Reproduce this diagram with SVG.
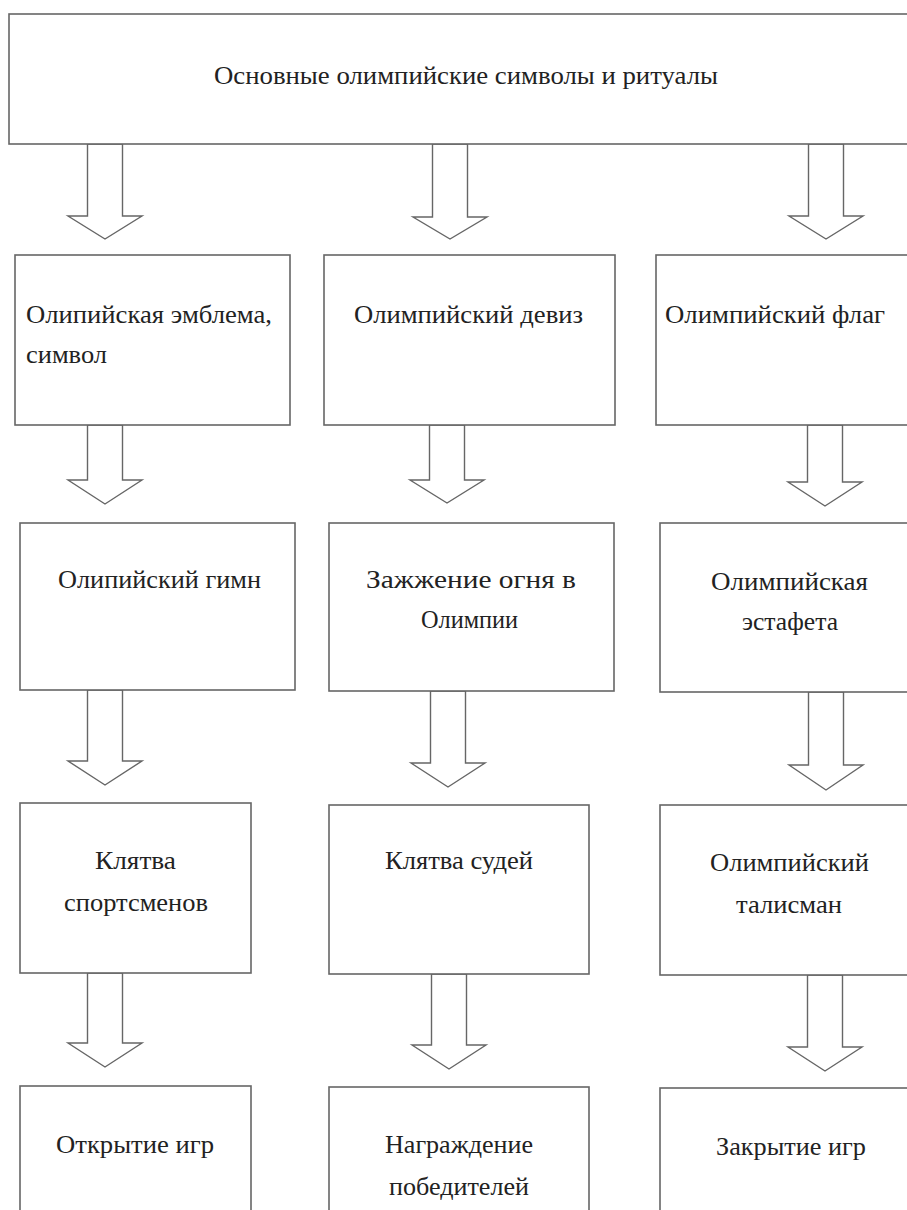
<svg xmlns="http://www.w3.org/2000/svg" width="907" height="1210" viewBox="0 0 907 1210">
<style>
.box{fill:#fff;stroke:#666;stroke-width:1.6}
.arr{fill:#fff;stroke:#666;stroke-width:1.4;stroke-linejoin:miter}
text{font-size:25px;fill:#222}
</style>
<rect width="907" height="1210" fill="#fff"/>
<g id="connectors">
<polygon class="arr" points="87.5,144 122.5,144 122.5,216 142,216 105,239 68,216 87.5,216"/>
<polygon class="arr" points="432.5,144 467.5,144 467.5,217 487,217 450,239 413,217 432.5,217"/>
<polygon class="arr" points="808.5,144 843.5,144 843.5,216 863,216 826,239 789,216 808.5,216"/>
<polygon class="arr" points="87.5,425 122.5,425 122.5,480 142,480 105,504 68,480 87.5,480"/>
<polygon class="arr" points="429.5,425 464.5,425 464.5,480 484,480 447,503 410,480 429.5,480"/>
<polygon class="arr" points="807.5,425 842.5,425 842.5,482 862,482 825,506 788,482 807.5,482"/>
<polygon class="arr" points="87.5,690 122.5,690 122.5,761 142,761 105,785 68,761 87.5,761"/>
<polygon class="arr" points="430.5,691 465.5,691 465.5,763 485,763 448,787 411,763 430.5,763"/>
<polygon class="arr" points="808.5,692 843.5,692 843.5,765 863,765 826,790 789,765 808.5,765"/>
<polygon class="arr" points="87.5,973 122.5,973 122.5,1043 142,1043 105,1067 68,1043 87.5,1043"/>
<polygon class="arr" points="431.5,974 466.5,974 466.5,1045 486,1045 449,1069 412,1045 431.5,1045"/>
<polygon class="arr" points="807.5,975 842.5,975 842.5,1047 862,1047 825,1071 788,1047 807.5,1047"/>
</g>
<g font-family="Times New Roman, Liberation Serif, DejaVu Serif, serif">
<g id="n-top"><rect class="box" x="9" y="14" width="910" height="130"/><text x="214" y="84" textLength="504" lengthAdjust="spacingAndGlyphs">Основные олимпийские символы и ритуалы</text></g>
<g id="n-emblem"><rect class="box" x="15" y="255" width="275" height="170"/><text x="26" y="323" textLength="246" lengthAdjust="spacingAndGlyphs">Олипийская эмблема,</text><text x="26" y="363" textLength="81" lengthAdjust="spacingAndGlyphs">символ</text></g>
<g id="n-motto"><rect class="box" x="324" y="255" width="291" height="170"/><text x="354" y="323" textLength="229" lengthAdjust="spacingAndGlyphs">Олимпийский девиз</text></g>
<g id="n-flag"><rect class="box" x="656" y="255" width="264" height="170"/><text x="665" y="323" textLength="220" lengthAdjust="spacingAndGlyphs">Олимпийский флаг</text></g>
<g id="n-anthem"><rect class="box" x="20" y="523" width="275" height="167"/><text x="58" y="588" textLength="203" lengthAdjust="spacingAndGlyphs">Олипийский гимн</text></g>
<g id="n-fire"><rect class="box" x="329" y="523" width="285" height="168"/><text x="366" y="588" textLength="210" lengthAdjust="spacingAndGlyphs">Зажжение огня в</text><text x="421" y="628" textLength="97" lengthAdjust="spacingAndGlyphs">Олимпии</text></g>
<g id="n-relay"><rect class="box" x="660" y="523" width="260" height="169"/><text x="711" y="590" textLength="157" lengthAdjust="spacingAndGlyphs">Олимпийская</text><text x="742" y="630" textLength="96" lengthAdjust="spacingAndGlyphs">эстафета</text></g>
<g id="n-athletes"><rect class="box" x="20" y="803" width="231" height="170"/><text x="95" y="869" textLength="81" lengthAdjust="spacingAndGlyphs">Клятва</text><text x="64" y="911" textLength="144" lengthAdjust="spacingAndGlyphs">спортсменов</text></g>
<g id="n-judges"><rect class="box" x="329" y="805" width="260" height="169"/><text x="385" y="869" textLength="148" lengthAdjust="spacingAndGlyphs">Клятва судей</text></g>
<g id="n-mascot"><rect class="box" x="660" y="805" width="260" height="170"/><text x="710" y="871" textLength="159" lengthAdjust="spacingAndGlyphs">Олимпийский</text><text x="736" y="913" textLength="106" lengthAdjust="spacingAndGlyphs">талисман</text></g>
<g id="n-opening"><rect class="box" x="20" y="1086" width="231" height="140"/><text x="56" y="1153" textLength="158" lengthAdjust="spacingAndGlyphs">Открытие игр</text></g>
<g id="n-award"><rect class="box" x="329" y="1087" width="260" height="140"/><text x="385" y="1153" textLength="148" lengthAdjust="spacingAndGlyphs">Награждение</text><text x="389" y="1195" textLength="140" lengthAdjust="spacingAndGlyphs">победителей</text></g>
<g id="n-closing"><rect class="box" x="660" y="1088" width="260" height="140"/><text x="716" y="1155" textLength="150" lengthAdjust="spacingAndGlyphs">Закрытие игр</text></g>
</g>
</svg>
